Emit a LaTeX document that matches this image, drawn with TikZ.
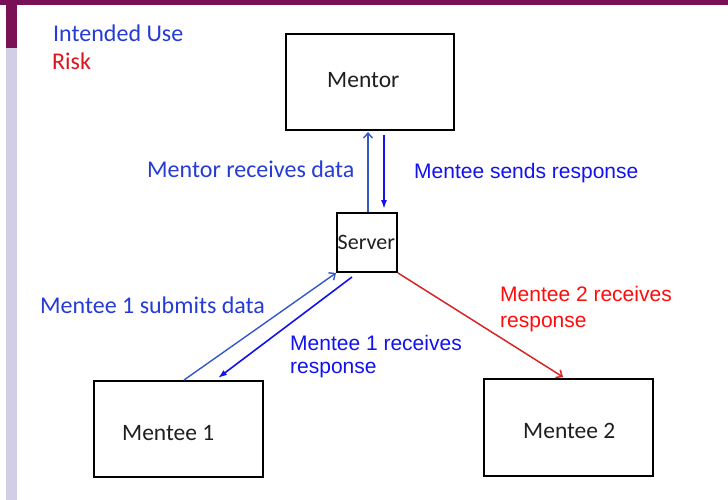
\documentclass[tikz,border=0pt]{standalone}
\usepackage{fontspec}
\setmainfont{Carlito}
\newfontfamily\arialf{Liberation Sans}
\usetikzlibrary{arrows.meta}
\definecolor{topbar}{RGB}{122,17,87}
\definecolor{sidebar}{RGB}{210,206,230}
\definecolor{blueA}{RGB}{38,60,212}
\definecolor{blueB}{RGB}{18,18,240}
\definecolor{arrowA}{RGB}{52,88,204}
\definecolor{redA}{RGB}{255,12,12}
\definecolor{redB}{RGB}{222,20,28}
\definecolor{redArrow}{RGB}{214,38,38}
\tikzset{
  box/.style={draw=black, line width=2pt, fill=white, inner sep=0pt},
  boxtext/.style={font=\fontsize{23.5}{26}\selectfont, text=black!88, inner sep=0pt, anchor=base west},
  calabel/.style={font=\fontsize{24}{28}\selectfont, text=blueA, inner sep=0pt, anchor=base west},
  arlabel/.style={font=\arialf\fontsize{21}{24.5}\selectfont, inner sep=0pt, anchor=base west, align=left},
  lightarrow/.style={draw=arrowA, line width=1.4pt, -{Straight Barb[length=5pt,width=9pt,line width=1.4pt]}},
  darkarrow/.style={draw=blueB, line width=1.6pt, -{Latex[length=9pt,width=6pt]}},
  redarrow/.style={draw=redArrow, line width=1.5pt, -{Straight Barb[length=5pt,width=9pt,line width=1.5pt]}}
}
\begin{document}
\begin{tikzpicture}[x=1pt,y=-1pt]
\useasboundingbox (0,0) rectangle (728,500);
\fill[white] (0,0) rectangle (728,500);
% frame decorations
\fill[sidebar] (6,48) rectangle (17,500);
\fill[topbar] (6,0) rectangle (17,48);
\fill[topbar] (0,0) rectangle (728,5);
% legend
\node[calabel] (legUse) at (53,42) {Intended Use};
\node[calabel, text=redB] (legRisk) at (52,70) {Risk};
% boxes
\node[box, minimum width=168pt, minimum height=96pt] (mentor) at (370,82) {};
\node[boxtext] (mentortxt) at (327,88) {Mentor};
\node[box, minimum width=60pt, minimum height=59pt] (server) at (367,242.5) {};
\node[boxtext, font=\fontsize{22}{24}\selectfont] (servertxt) at (337.5,249.5) {Server};
\node[box, minimum width=169pt, minimum height=96pt] (mentee1) at (178.5,429) {};
\node[boxtext] (mentee1txt) at (122,440) {Mentee 1};
\node[box, minimum width=169pt, minimum height=97pt] (mentee2) at (568.5,427.5) {};
\node[boxtext] (mentee2txt) at (523,438) {Mentee 2};
% connectors
\draw[lightarrow] ([xshift=1pt]server.north) -- ([xshift=-2pt,yshift=-1pt]mentor.south);
\draw[darkarrow] ([xshift=14pt,yshift=-4pt]mentor.south) -- ([xshift=17pt,yshift=3pt]server.north);
\draw[lightarrow] ([xshift=5.5pt]mentee1.north) -- (server.south west);
\draw[darkarrow] ([xshift=16pt,yshift=-4pt]server.south west) -- ([xshift=39.5pt,yshift=2pt]mentee1.north);
\draw[redarrow] (server.south east) -- ([xshift=-5.5pt,yshift=1pt]mentee2.north);
% labels
\node[calabel] (lblMentorRecv) at (147,177) {Mentor receives data};
\node[arlabel, text=blueB] (lblSends) at (414,178) {Mentee sends response};
\node[calabel] (lblSubmit) at (40,313) {Mentee 1 submits data};
\node[arlabel, text=blueB] (lblM1recv) at (290,373.5) {Mentee 1 receives\\[-1pt]response};
\node[arlabel, text=redA] (lblM2recv) at (500,327) {Mentee 2 receives\\[1.5pt]response};
\end{tikzpicture}
\end{document}
